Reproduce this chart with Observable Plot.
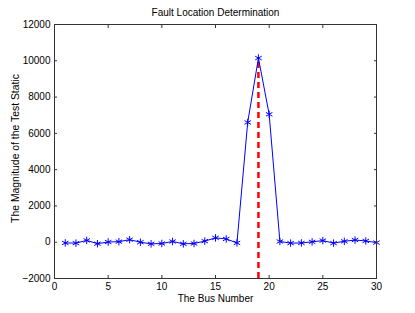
<!DOCTYPE html>
<html>
<head>
<meta charset="utf-8">
<script src="https://cdn.jsdelivr.net/npm/d3@7"></script>
<script src="https://cdn.jsdelivr.net/npm/@observablehq/plot@0.6"></script>
<style>
  html, body { margin: 0; padding: 0; background: #fff; }
  #chart svg { display: block; font-family: "Liberation Sans", Arial, sans-serif; }
</style>
</head>
<body>
<div id="chart"></div>
<script>
const buses = [1,2,3,4,5,6,7,8,9,10,11,12,13,14,15,16,17,18,19,20,21,22,23,24,25,26,27,28,29,30];
const statistic = [-40,-50,100,-80,10,30,140,0,-90,-70,40,-90,-70,60,240,180,-40,6600,10150,7050,40,-50,-40,20,90,-50,50,120,70,-20];
const faultBus = 19;
const xTicks = [0,5,10,15,20,25,30];
const yTicks = [-2000,0,2000,4000,6000,8000,10000,12000];
const title = "Fault Location Determination";
const xLabel = "The Bus Number";
const yLabel = "The Magnitude of the Test Static";

const data = buses.map((b, i) => ({bus: b, value: statistic[i]}));
const faultValue = statistic[buses.indexOf(faultBus)];

const chart = Plot.plot({
  width: 415,
  height: 313,
  marginLeft: 54,
  marginRight: 39,
  marginTop: 24,
  marginBottom: 35,
  style: {fontSize: "10px", fontFamily: "Liberation Sans, Arial, sans-serif", color: "#000", background: "#fff"},
  x: {domain: [0, 30], ticks: xTicks},
  y: {domain: [-2000, 12000], ticks: yTicks},
  marks: [
    Plot.ruleX([faultBus], {y1: -2000, y2: faultValue, stroke: "#ff0000", strokeWidth: 2.5, strokeDasharray: "6,4"}),
    Plot.line(data, {x: "bus", y: "value", stroke: "#0000ff", strokeWidth: 1}),
    Plot.dot(data, {x: "bus", y: "value", symbol: "asterisk", r: 3.5, stroke: "#0000ff", strokeWidth: 1}),
    Plot.axisX({anchor: "bottom", ticks: xTicks, tickSize: 0, tickPadding: 4, label: null, fill: "#000"}),
    Plot.axisY({anchor: "left", ticks: yTicks, tickSize: 0, tickPadding: 4, label: null, fill: "#000", tickFormat: d => d < 0 ? "\u2212" + Math.abs(d) : String(d)}),
    Plot.axisX({anchor: "bottom", ticks: xTicks, tickSize: -3, tickFormat: () => "", label: null, stroke: "#333"}),
    Plot.axisX({anchor: "top", ticks: xTicks, tickSize: -3, tickFormat: () => "", label: null, stroke: "#333"}),
    Plot.axisY({anchor: "left", ticks: yTicks, tickSize: -3, tickFormat: () => "", label: null, stroke: "#333"}),
    Plot.axisY({anchor: "right", ticks: yTicks, tickSize: -3, tickFormat: () => "", label: null, stroke: "#333"}),
    Plot.frame({stroke: "#333", strokeWidth: 1}),
    Plot.text([title], {frameAnchor: "top", dy: -15.5, fontSize: 10, fill: "#000"}),
    Plot.text([xLabel], {frameAnchor: "bottom", dy: 23.5, fontSize: 10, fill: "#000"}),
    Plot.text([yLabel], {frameAnchor: "middle", dx: -200, dy: -3, rotate: -90, fontSize: 10.4, fill: "#000"})
  ]
});
document.getElementById("chart").appendChild(chart);
</script>
</body>
</html>
